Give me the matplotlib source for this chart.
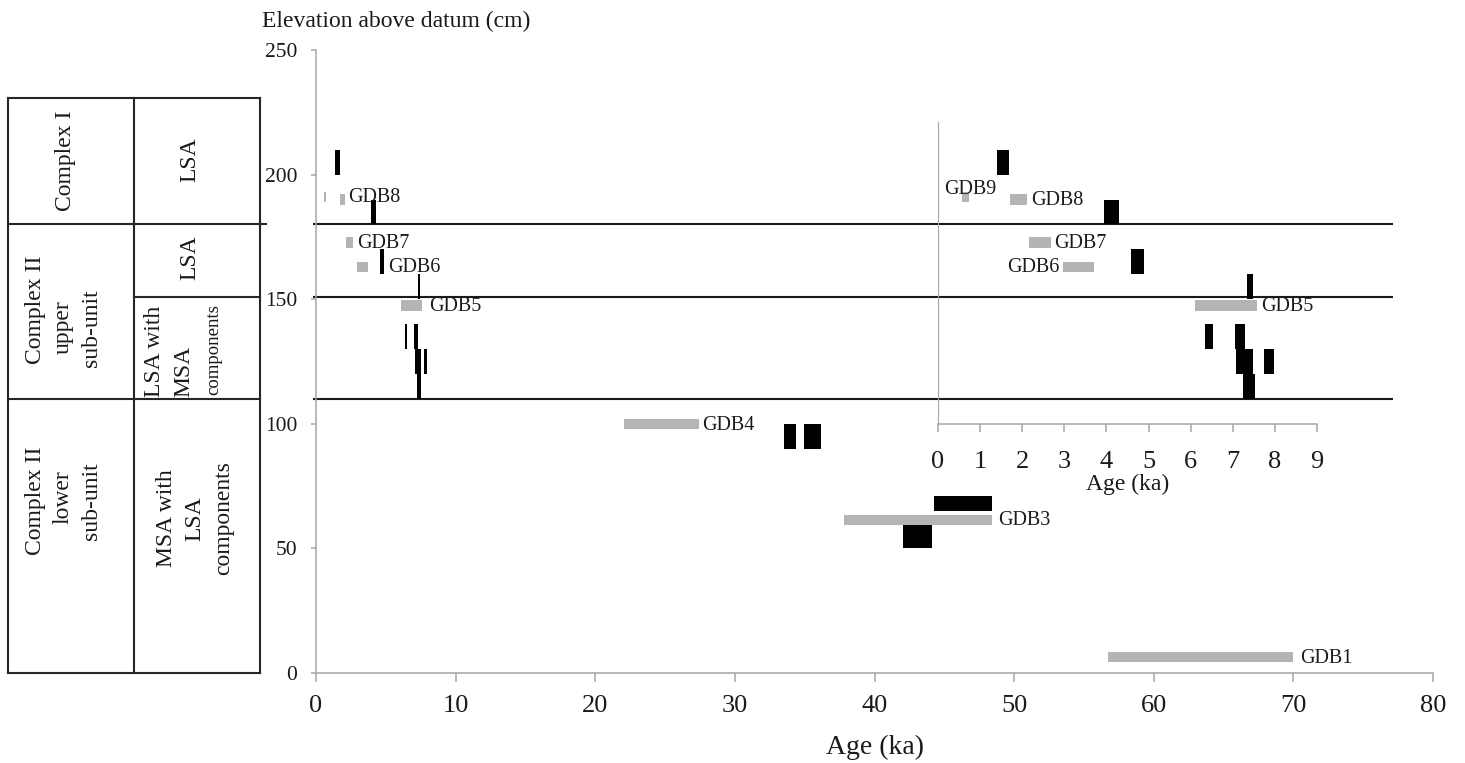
import matplotlib
matplotlib.use('Agg')
import matplotlib.pyplot as plt
from matplotlib.transforms import blended_transform_factory

# ---------------- data ----------------
# black bars: dated spits (age range in ka, elevation range in cm)
spit_age_min = [1.39, 3.94, 4.58, 7.33, 6.34, 7.05, 7.08, 7.74, 7.24, 33.50, 34.98, 44.27, 42.03]
spit_age_max = [1.69, 4.30, 4.89, 7.47, 6.53, 7.29, 7.49, 7.97, 7.52, 34.36, 36.17, 48.45, 44.15]
spit_elev_bottom = [200, 180, 160, 150, 130, 130, 120, 120, 110, 90, 90, 65, 50]
spit_elev_top = [210, 190, 170, 160, 140, 140, 130, 130, 120, 100, 100, 71, 60]

# grey bars: OSL samples (age range in ka, elevation in cm)
osl_names = ['GDB9', 'GDB8', 'GDB7', 'GDB6', 'GDB5', 'GDB4', 'GDB3', 'GDB1']
osl_age_min = [0.57, 1.72, 2.15, 2.96, 6.11, 22.08, 37.85, 56.69]
osl_age_max = [0.74, 2.11, 2.68, 3.70, 7.58, 27.40, 48.45, 69.94]
osl_elev = [191.0, 190.0, 172.7, 163.0, 147.5, 99.9, 61.5, 6.4]

unit_boundaries = [180, 151, 110]
table_top = 230.7

xticks_main = list(range(0, 81, 10))
yticks_main = list(range(0, 251, 50))
xticks_inset = list(range(0, 10))

# ---------------- styling / layout ----------------
plt.rcParams['font.family'] = ['Liberation Serif', 'DejaVu Serif']
TXT = '#1a1a1a'
AXC = '#a6a6a6'
GREY = '#b4b4b4'
W, H = 1465, 763
PX = 0.72  # points per pixel at dpi 100

fig = plt.figure(figsize=(W / 100, H / 100), dpi=100)
ax = fig.add_axes([316 / W, 1 - 673 / H, (1433 - 316) / W, (673 - 50) / H])
ax.set_xlim(0, 80)
ax.set_ylim(0, 250)
for s in ['top', 'right']:
    ax.spines[s].set_visible(False)
for s in ['left', 'bottom']:
    ax.spines[s].set_color(AXC)
    ax.spines[s].set_linewidth(1.1)
ax.set_xticks(xticks_main)
ax.set_yticks(yticks_main)
ax.tick_params(axis='x', direction='out', length=6.5, width=1.1, color=AXC,
               labelsize=19, pad=9, labelcolor=TXT)
ax.tick_params(axis='y', direction='out', length=3.5, width=1.1, color=AXC,
               labelsize=15.5, pad=10, labelcolor=TXT)

OSL_H = 4.2


def draw_bars(a):
    a.bar(spit_age_min, [t - b for t, b in zip(spit_elev_top, spit_elev_bottom)],
          width=[r - l for l, r in zip(spit_age_min, spit_age_max)],
          bottom=spit_elev_bottom, align='edge', color='black', linewidth=0, zorder=3)
    a.bar(osl_age_min, [OSL_H] * len(osl_elev),
          width=[r - l for l, r in zip(osl_age_min, osl_age_max)],
          bottom=[e - OSL_H / 2 for e in osl_elev], align='edge', color=GREY,
          linewidth=0, zorder=3)


draw_bars(ax)
ax.hlines(unit_boundaries, -0.25, 77.1, color=TXT, lw=1.5, clip_on=False, zorder=2)

# labels: name -> (anchor side, dx px, dy px, ha)
main_labels = {'GDB8': ('end', 2.5, 2, 'left'), 'GDB7': ('end', 4, -1, 'left'),
               'GDB6': ('end', 20, -1, 'left'), 'GDB5': ('end', 7, -1, 'left'),
               'GDB4': ('end', 3.5, -1, 'left'), 'GDB3': ('end', 6, -1, 'left'),
               'GDB1': ('end', 8, -1, 'left')}
inset_labels = {'GDB9': ('start', -18, 8, 'left'), 'GDB8': ('end', 4, -1, 'left'),
                'GDB7': ('end', 3, -1, 'left'), 'GDB6': ('start', -3, -1, 'right'),
                'GDB5': ('end', 4, -1, 'left')}


def put_labels(a, spec):
    for name, lo, hi, e in zip(osl_names, osl_age_min, osl_age_max, osl_elev):
        if name not in spec:
            continue
        side, dx, dy, ha = spec[name]
        x = hi if side == 'end' else lo
        a.annotate(name, xy=(x, e), xytext=(dx * PX, dy * PX), textcoords='offset points',
                   ha=ha, va='center', fontsize=14.5, color=TXT, zorder=4)


put_labels(ax, main_labels)

# ---------------- inset ----------------
ins_x0 = (938 - 316) / ((1433 - 316) / 80)
ins_w = (1317 - 938) / ((1433 - 316) / 80)
ins_ylim = (99.8, 221.1)
axi = ax.inset_axes([ins_x0, ins_ylim[0], ins_w, ins_ylim[1] - ins_ylim[0]],
                    transform=ax.transData)
axi.set_xlim(0, 9)
axi.set_ylim(*ins_ylim)
axi.patch.set_visible(False)
for s in ['top', 'right']:
    axi.spines[s].set_visible(False)
axi.spines['left'].set_color(AXC)
axi.spines['left'].set_linewidth(0.8)
axi.spines['bottom'].set_color(AXC)
axi.spines['bottom'].set_linewidth(1.1)
axi.set_yticks([])
axi.set_xticks(xticks_inset)
axi.tick_params(axis='x', direction='out', length=6, width=1.1, color=AXC,
                labelsize=19, pad=13, labelcolor=TXT)
axi.set_xlabel('Age (ka)', fontsize=17, labelpad=1, color=TXT)
draw_bars(axi)
put_labels(axi, inset_labels)

# ---------------- axis titles ----------------
fig.text(262 / W, 1 - 21 / H, 'Elevation above datum (cm)', fontsize=17, ha='left',
         va='center', color=TXT)
fig.text(875 / W, 1 - 747 / H, 'Age (ka)', fontsize=20, ha='center', va='center', color=TXT)

# ---------------- stratigraphic table ----------------
tr = blended_transform_factory(fig.transFigure, ax.transData)
LC = '#262626'


def tline(xs, ys):
    ax.plot([x / W for x in xs], ys, transform=tr, color=LC, lw=1.5, clip_on=False,
            solid_capstyle='projecting')


for xv in [8, 134, 260]:
    tline([xv, xv], [0, table_top])
tline([8, 260], [table_top, table_top])
tline([8, 260], [0, 0])
tline([8, 266], [180, 180])
tline([8, 260], [110, 110])
tline([134, 260], [151, 151])


def ttext(xpx, y, s, size=17, va='center'):
    ax.text(xpx / W, y, s, transform=tr, rotation=90, ha='center', va=va,
            fontsize=size, color=TXT, clip_on=False)


ttext(65, 205.5, 'Complex I')
ttext(35, 145.7, 'Complex II')
ttext(63, 138.8, 'upper')
ttext(91, 138.5, 'sub-unit')
ttext(35, 69, 'Complex II')
ttext(63, 70.5, 'lower')
ttext(91, 69, 'sub-unit')
ttext(190, 206, 'LSA')
ttext(190, 166.5, 'LSA')
ttext(155, 110.8, 'LSA with', va='bottom')
ttext(184, 110.8, 'MSA', va='bottom')
ttext(214, 111.4, 'components', size=13.5, va='bottom')
ttext(167, 62, 'MSA with', va='center')
ttext(195, 62, 'LSA', va='center')
ttext(224, 62, 'components', va='center')

fig.savefig('out.png', dpi=100)
